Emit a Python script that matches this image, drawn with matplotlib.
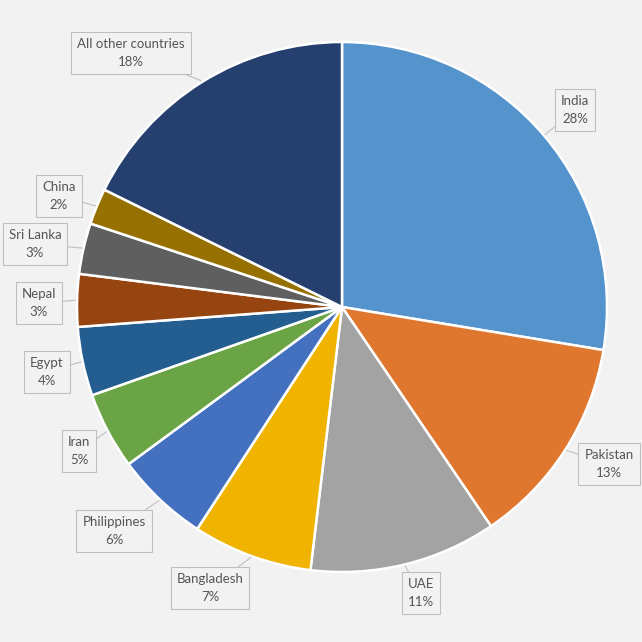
import numpy as np
import matplotlib.pyplot as plt

countries = ['India', 'Pakistan', 'UAE', 'Bangladesh', 'Philippines', 'Iran',
             'Egypt', 'Nepal', 'Sri Lanka', 'China', 'All other countries']
shares = [27.6, 12.9, 11.4, 7.3, 5.7, 4.7, 4.2, 3.2, 3.1, 2.2, 17.7]
colors = ['#5593cc', '#e0772f', '#a3a3a3', '#f0b400', '#4470c0', '#6aa444',
          '#245d8f', '#964510', '#5f5f5f', '#967000', '#253f6e']

# label box centres in pixel coords (x, y from top)
label_pos = [(575, 110), (609, 464), (421, 593), (210, 588), (114, 531), (79, 451),
             (47, 372), (39, 303), (35, 244), (59, 196), (131, 53)]

W = 642
bg = '#f2f2f2'
fig = plt.figure(figsize=(6.42, 6.42), dpi=100, facecolor=bg)
ax = fig.add_axes([0, 0, 1, 1])
ax.set_facecolor(bg)
ax.axis('off')

cx, cy, r = 342, W - 307, 265
wedges, _ = ax.pie(shares, colors=colors, startangle=90, counterclock=False,
                   center=(cx, cy), radius=r,
                   wedgeprops=dict(edgecolor='white', linewidth=1.8))
ax.set_xlim(0, W)
ax.set_ylim(0, W)
ax.set_aspect('equal')

for w, name, val, (lx, ly) in zip(wedges, countries, shares, label_pos):
    ang = np.deg2rad((w.theta1 + w.theta2) / 2)
    px = cx + r * 1.005 * np.cos(ang)
    py = cy + r * 1.005 * np.sin(ang)
    ax.annotate(f'{name}\n{val:.0f}%', xy=(px, py), xytext=(lx, W - ly),
                ha='center', va='center', multialignment='center',
                fontsize=9.5, family='Lato', color='#555555', linespacing=1.6,
                bbox=dict(boxstyle='square,pad=0.45', fc=bg, ec='#bfbfbf', lw=0.8),
                arrowprops=dict(arrowstyle='-', color='#bfbfbf', lw=0.8,
                                shrinkA=0, shrinkB=0))

fig.savefig('out.png', dpi=100, facecolor=bg)
